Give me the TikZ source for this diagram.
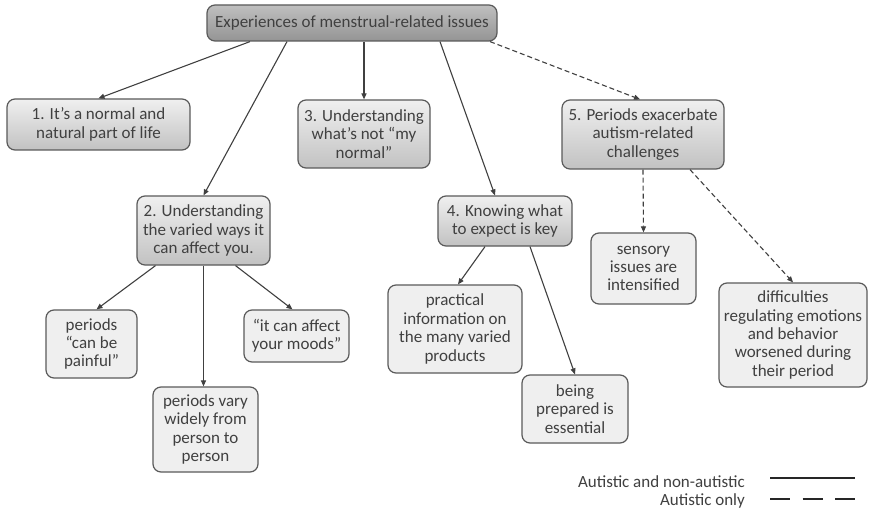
\documentclass[tikz,border=0pt]{standalone}
\usepackage{fontspec}
\setmainfont{Carlito}
\usetikzlibrary{arrows.meta}
\definecolor{edgegray}{HTML}{5A5A5A}
\definecolor{inkgray}{HTML}{404040}
\definecolor{leafgray}{HTML}{EFEFEF}
\tikzset{
  box/.style={draw=edgegray, line width=1.2pt, rounded corners=8pt, align=center,
    text=inkgray, inner sep=2pt, font=\fontsize{17}{18.4}\selectfont},
  rootbox/.style={box, top color=black!25, bottom color=black!42},
  themebox/.style={box, top color=black!6, bottom color=black!24},
  leafbox/.style={box, fill=leafgray},
  link/.style={draw=inkgray, line width=1.1pt, -{Triangle[length=6pt,width=5pt]}},
  autonly/.style={link, dash pattern=on 5pt off 3pt},
  keytext/.style={anchor=east, text=inkgray, font=\fontsize{17}{18.4}\selectfont, inner sep=0pt}
}
\begin{document}
\begin{tikzpicture}[x=1pt, y=-1pt]
  \useasboundingbox[fill=white] (0,0) rectangle (869,513);

  %%%%% boxes %%%%%
  \node[rootbox, minimum width=290, minimum height=36] (root) at (352,23) {Experiences of menstrual-related issues};

  \node[themebox, minimum width=183, minimum height=51] (normal) at (98.5,124.5) {1. It’s a normal and\\natural part of life};
  \node[themebox, minimum width=133, minimum height=69] (varied) at (203.5,230.5) {2. Understanding\\the varied ways it\\can affect you.};
  \node[themebox, minimum width=132, minimum height=68] (notnormal) at (364,134) {3. Understanding\\what’s not “my\\normal”};
  \node[themebox, minimum width=134, minimum height=50] (expect) at (505,221) {4. Knowing what\\to expect is key};
  \node[themebox, minimum width=162, minimum height=69] (exacerbate) at (643,134.5) {5. Periods exacerbate\\autism-related\\challenges};

  \node[leafbox, minimum width=91, minimum height=68] (painful) at (91.5,344) {periods\\“can be\\painful”};
  \node[leafbox, minimum width=105, minimum height=85] (vary) at (205.5,429.5) {periods vary\\widely from\\person to\\person};
  \node[leafbox, minimum width=105, minimum height=52] (moods) at (296.5,336) {“it can affect\\your moods”};
  \node[leafbox, minimum width=134, minimum height=88] (practical) at (455,329) {practical\\information on\\the many varied\\products};
  \node[leafbox, minimum width=106, minimum height=68] (prepared) at (575,409) {being\\prepared is\\essential};
  \node[leafbox, minimum width=105, minimum height=71] (sensory) at (643.5,268.5) {sensory\\issues are\\intensified};
  \node[leafbox, minimum width=148, minimum height=104] (regulate) at (793,335) {difficulties\\regulating emotions\\and behavior\\worsened during\\their period};

  %%%%% arrows %%%%%
  \draw[link] ([xshift=-102]root.south) -- (normal.north);
  \draw[link] ([xshift=-65]root.south) -- (varied.north);
  \draw[link] ([xshift=12]root.south) -- (notnormal.north);
  \draw[link] ([xshift=88]root.south) -- ([xshift=-10]expect.north);
  \draw[autonly] ([xshift=138]root.south) -- ([xshift=-3]exacerbate.north);

  \draw[link] ([xshift=-48]varied.south) -- ([xshift=5]painful.north);
  \draw[link] (varied.south) -- (varied.south |- vary.north);
  \draw[link] ([xshift=32]varied.south) -- ([xshift=-4]moods.north);

  \draw[link] ([xshift=-20]expect.south) -- ([xshift=3]practical.north);
  \draw[link] ([xshift=25]expect.south) -- (prepared.north);

  \draw[autonly] (exacerbate.south) -- (sensory.north);
  \draw[autonly] ([xshift=47]exacerbate.south) -- (regulate.north);

  %%%%% legend %%%%%
  \node[keytext] (keyboth) at (745,482) {Autistic and non-autistic};
  \node[keytext] (keyaut) at (745,501) {Autistic only};
  \coordinate (bothend) at (855,478);
  \coordinate (autend) at (855,499);
  \draw[line width=2.6pt, black!85] (770,478) -- (bothend);
  \draw[line width=2.6pt, black!85, dash pattern=on 20pt off 12.5pt] (770,499) -- (autend);
\end{tikzpicture}
\end{document}
